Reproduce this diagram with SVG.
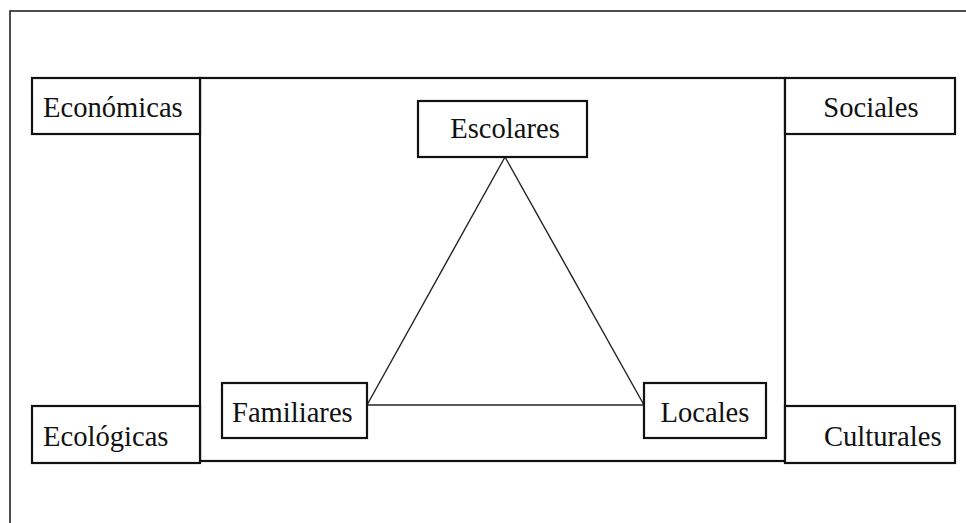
<svg xmlns="http://www.w3.org/2000/svg" width="966" height="523" viewBox="0 0 966 523">
<style>
.box{fill:#fff;stroke:#111;stroke-width:2.2}
.t{font-family:"Liberation Serif","Times New Roman",serif;font-size:28.6px;fill:#111}
.c{text-anchor:middle}
.ln{stroke:#222;stroke-width:1.4;fill:none}
</style>
<rect x="0" y="0" width="966" height="523" fill="#fff"/>
<rect id="frame" x="10" y="11" width="980" height="540" fill="none" stroke="#222" stroke-width="1.6"/>
<rect id="center" x="200" y="78" width="585" height="383" fill="#fff" stroke="#111" stroke-width="2.2"/>
<g id="connectors">
<line class="ln" x1="505" y1="157" x2="367" y2="405"/>
<line class="ln" x1="505" y1="157" x2="644" y2="405"/>
<line class="ln" x1="367" y1="405" x2="644" y2="405" stroke="#555" stroke-width="1.8"/>
</g>
<g id="economicas"><rect class="box" x="32" y="78" width="168" height="56"/><text class="t" x="43" y="117">Económicas</text></g>
<g id="sociales"><rect class="box" x="785" y="78" width="170" height="56"/><text class="t c" x="871" y="117">Sociales</text></g>
<g id="ecologicas"><rect class="box" x="32" y="406" width="168" height="57"/><text class="t" x="43" y="446">Ecológicas</text></g>
<g id="culturales"><rect class="box" x="785" y="406" width="170" height="57"/><text class="t" x="824" y="446">Culturales</text></g>
<g id="escolares"><rect class="box" x="418" y="101" width="169" height="56"/><text class="t c" x="505" y="138">Escolares</text></g>
<g id="familiares"><rect class="box" x="222" y="383" width="145" height="55" stroke-width="1.8"/><text class="t" x="232" y="422">Familiares</text></g>
<g id="locales"><rect class="box" x="644" y="383" width="122" height="55" stroke-width="1.8"/><text class="t c" x="705" y="422">Locales</text></g>
</svg>
